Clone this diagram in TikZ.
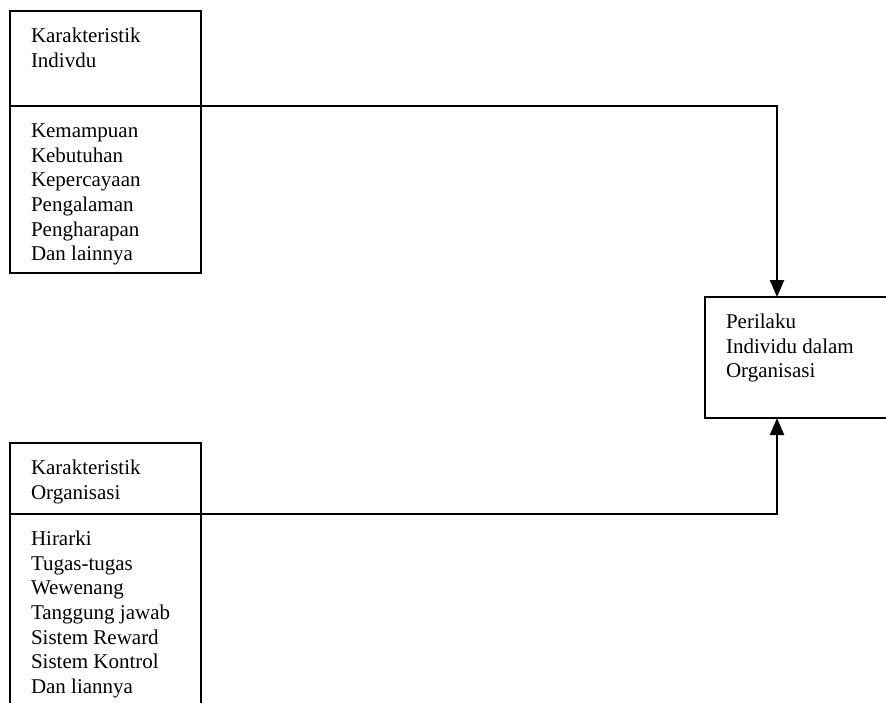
\documentclass[tikz,border=0pt]{standalone}
\usepackage{fontspec}
\setmainfont{Liberation Serif}
\usetikzlibrary{positioning,arrows.meta}
\newcommand{\boxtext}[3]{\parbox[b][#1][t]{#2}{\raggedright\rule{0pt}{15.8pt}#3}}

\begin{document}
\begin{tikzpicture}[x=0.5pt,y=-0.5pt,
  box/.style={draw,line width=1pt,anchor=north west,inner xsep=10.5pt,
    inner ysep=0pt,outer sep=0pt,font=\fontsize{10.5}{12.3}\selectfont},
  conn/.style={line width=1.2pt,-{Triangle[length=8.5pt,width=7pt]}}]
  \useasboundingbox (0,0) rectangle (886,702);
  \node[box] (indHead) at (10,11) {\boxtext{47.5pt}{74.5pt}{Karakteristik\\Indivdu}};
  \node[box,below=0pt of indHead] (indList) {\boxtext{83.5pt}{74.5pt}{Kemampuan\\Kebutuhan\\Kepercayaan\\Pengalaman\\Pengharapan\\Dan lainnya}};
  \node[box] (orgHead) at (10,443) {\boxtext{35.5pt}{74.5pt}{Karakteristik\\Organisasi}};
  \node[box,below=0pt of orgHead] (orgList) {\boxtext{115pt}{74.5pt}{Hirarki\\Tugas-tugas\\Wewenang\\Tanggung jawab\\Sistem Reward\\Sistem Kontrol\\Dan liannya}};
  \node[box] (perilaku) at (705,297) {\boxtext{60.5pt}{79pt}{Perilaku\\Individu dalam\\Organisasi}};
  \draw[conn] (indHead.south east) -| ([xshift=36pt]perilaku.north west);
  \draw[conn] (orgHead.south east) -| ([xshift=36pt]perilaku.south west);
\end{tikzpicture}
\end{document}
